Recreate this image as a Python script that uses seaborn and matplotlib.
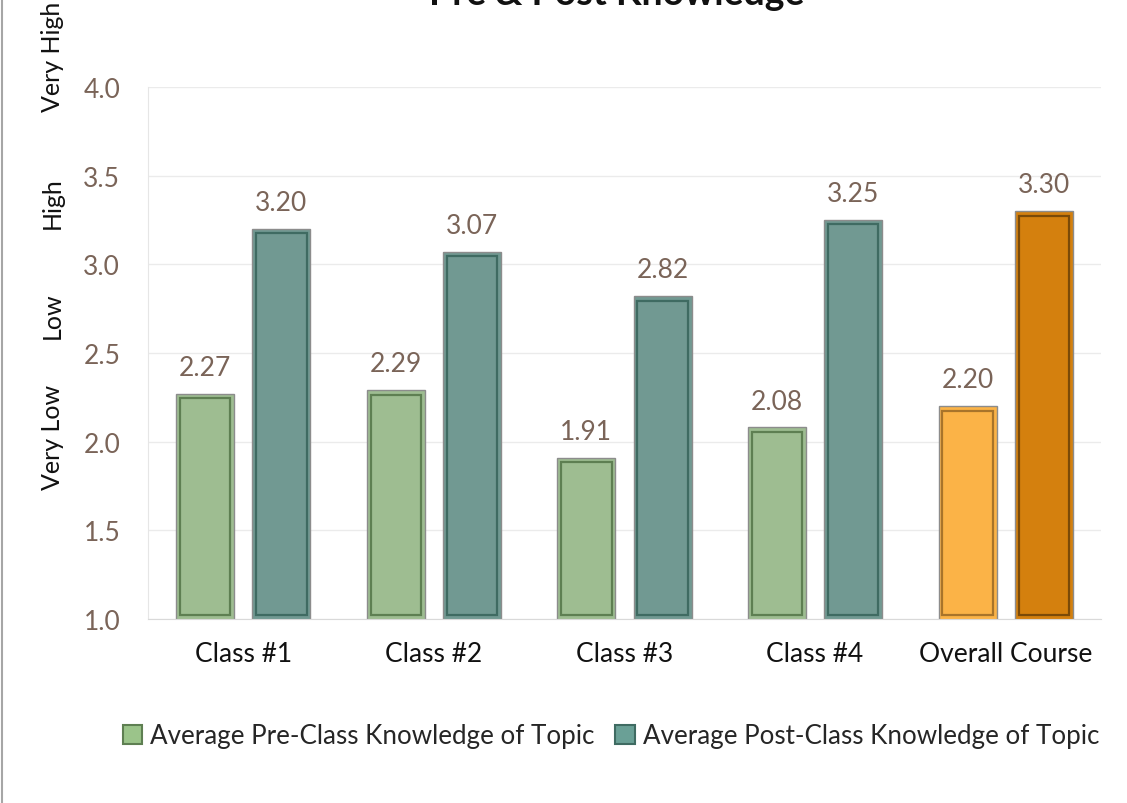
import pandas as pd
import matplotlib.pyplot as plt
import seaborn as sns
from matplotlib.lines import Line2D
from matplotlib.patches import Patch, Rectangle

classes = ["Class #1", "Class #2", "Class #3", "Class #4", "Overall Course"]
pre_scores = [2.27, 2.29, 1.91, 2.08, 2.20]
post_scores = [3.20, 3.07, 2.82, 3.25, 3.30]
series = ["Average Pre-Class Knowledge of Topic", "Average Post-Class Knowledge of Topic"]
level_labels = ["Very Low", "Low", "High", "Very High"]
yticks = [1.0, 1.5, 2.0, 2.5, 3.0, 3.5, 4.0]

df = pd.DataFrame({
    "Class": classes * 2,
    "Score": pre_scores + post_scores,
    "Series": [series[0]] * 5 + [series[1]] * 5,
})

green, teal = "#9BC48A", "#6AA096"
green_edge, teal_edge = "#5E7F52", "#3F6B62"
orange_l, orange_d = "#FBB347", "#D4800E"
orange_l_edge, orange_d_edge = "#A8742A", "#7A4A08"
tick_col = "#7A6458"

sns.set_style("white")
plt.rcParams['font.family'] = ['Lato', 'DejaVu Sans']

fig = plt.figure(figsize=(11.27, 8.04), dpi=100)
ax = fig.add_axes([148 / 1127, 1 - 620 / 804, (1101 - 148) / 1127, (620 - 88) / 804])

sns.barplot(data=df, x="Class", y="Score", hue="Series", palette=[green, teal],
            width=0.8, gap=0.24, legend=False, ax=ax)

ax.set_ylim(1.0, 4.0)
ax.set_xlim(-0.5, 4.5)

edges = [green_edge, teal_edge]
for i, cont in enumerate(ax.containers):
    for bar in cont:
        bar.set_edgecolor("#8C8C8C")
        bar.set_linewidth(1)
ax.containers[0][4].set_facecolor(orange_l)
ax.containers[1][4].set_facecolor(orange_d)

# bevel look: darker inner frame on each bar
dx, dy = 0.02, 0.025
for i, cont in enumerate(ax.containers):
    for j, bar in enumerate(cont):
        ec = edges[i]
        if j == 4:
            ec = [orange_l_edge, orange_d_edge][i]
        x0, w, h = bar.get_x(), bar.get_width(), bar.get_height()
        top = bar.get_y() + h
        ax.add_patch(Rectangle((x0 + dx, 1.0 + dy), w - 2 * dx, top - 1.0 - 2 * dy,
                               fill=False, edgecolor=ec, linewidth=1.6, zorder=3))

for cont in ax.containers:
    ax.bar_label(cont, fmt="%.2f", padding=10, color=tick_col, fontsize=19)

ax.set_yticks(yticks)
ax.set_yticklabels([f"{v:.1f}" for v in yticks], color=tick_col, fontsize=19)
ax.tick_params(axis="y", length=0, pad=20)
ax.tick_params(axis="x", length=0, pad=16, labelsize=19, labelcolor="#111111")
ax.set_xticks([-0.5, 0.5, 1.5, 2.5, 3.5, 4.5], minor=True)
ax.tick_params(axis="x", which="minor", length=6, color="#D9D9D9", width=1)
ax.set_xlabel("")
ax.set_ylabel("")
ax.yaxis.grid(True, color="#EBEBEB", linewidth=1)
ax.set_axisbelow(True)
sns.despine(ax=ax, top=True, right=True)
ax.spines["left"].set_color("#E6E6E6")
ax.spines["bottom"].set_color("#D9D9D9")

# qualitative labels along the y axis
for lab, ypix in zip(level_labels, [437, 316, 203, 57]):
    fig.text(52 / 1127, 1 - ypix / 804, lab, rotation=90, ha="center", va="center",
             fontsize=18, color="#111111")

fig.text(617 / 1127, 1 - 5 / 804, "Pre & Post Knowledge", ha="center", va="baseline",
         fontsize=27, fontweight="bold", color="#111111")

# chart frame edge on the left
fig.add_artist(Line2D([2 / 1127, 2 / 1127], [0, 1], color="#A6A6A6", linewidth=1.5,
                      transform=fig.transFigure))

handles = [Patch(facecolor=green, edgecolor=green_edge, linewidth=1.5),
           Patch(facecolor=teal, edgecolor=teal_edge, linewidth=1.5)]
fig.legend(handles, series, loc="center", bbox_to_anchor=(611 / 1127, 1 - 737 / 804),
           ncol=2, frameon=False, fontsize=18.7, handlelength=0.75, handleheight=0.75,
           handletextpad=0.3, columnspacing=0.8)

fig.savefig("out.png", dpi=100)
